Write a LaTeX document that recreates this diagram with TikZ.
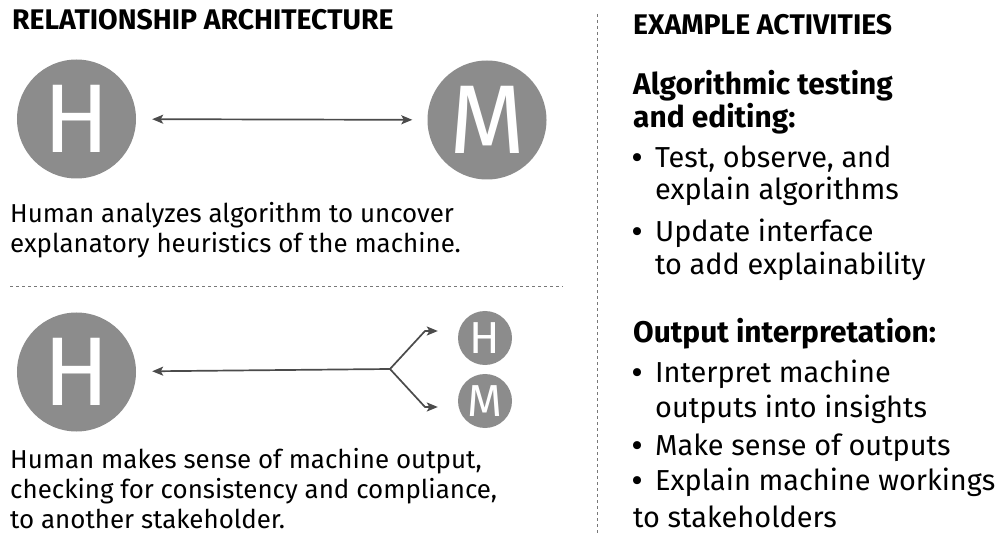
\documentclass[tikz,border=0pt]{standalone}
\usepackage{fontspec}
\setmainfont{Fira Sans}
\usetikzlibrary{arrows.meta}
\definecolor{disc}{RGB}{140,140,140}
\definecolor{ink}{RGB}{75,75,75}
\definecolor{rule}{RGB}{120,120,120}
\tikzset{
  tip/.tip={Stealth[length=11bp,width=9bp,inset=2.5bp]},
  bigdisc/.style={circle, fill=disc, minimum size=119bp, inner sep=0pt,
    text=white, font=\fontsize{98}{98}\selectfont},
  smalldisc/.style={circle, fill=disc, minimum size=54bp, inner sep=0pt,
    text=white, font=\fontsize{45}{45}\selectfont},
  conn/.style={draw=ink, line width=1.7bp, -tip},
  divider/.style={draw=rule, line width=0.9bp, dash pattern=on 3bp off 3bp},
  title/.style={anchor=base west, inner sep=0pt, font=\fontsize{28.5}{29}\bfseries\selectfont},
  caption/.style={anchor=base west, inner sep=0pt, font=\fontsize{26}{26}\selectfont},
  head/.style={anchor=base west, inner sep=0pt, font=\fontsize{30}{30}\bfseries\selectfont},
  item/.style={anchor=base west, inner sep=0pt, font=\fontsize{29}{29}\selectfont},
  dot/.style={anchor=base west, inner sep=0pt, font=\fontsize{29}{29}\bfseries\selectfont},
}
\begin{document}
\begin{tikzpicture}[x=1bp, y=-1bp]
\useasboundingbox[fill=white] (0,0) rectangle (995,536);

% column titles
\node[title] (t1) at (12,30) {RELATIONSHIP ARCHITECTURE};
\node[title] (t2) at (633,35) {EXAMPLE ACTIVITIES};

% dividers
\coordinate (hd1) at (10,286);
\coordinate (hd2) at (563,286);
\coordinate (vd1) at (597,14);
\coordinate (vd2) at (597,536);
\draw[divider] (hd1) -- (hd2);
\draw[divider] (vd1) -- (vd2);

% first relationship: human <-> machine
\node[bigdisc] (h1) at (76.5,119) {H};
\node[bigdisc] (m1) at (487,120) {M};
\draw[conn, tip-tip, shorten <=16bp, shorten >=15bp] (h1) -- (m1);
\node[caption] (c1a) at (10,223) {Human analyzes algorithm to uncover};
\node[caption] (c1b) at (10,253) {explanatory heuristics of the machine.};

% second relationship: machine output passed on
\node[bigdisc] (h2) at (76.5,372) {H};
\node[smalldisc] (hs) at (485,338) {H};
\node[smalldisc] (ms) at (485,401) {M};
\coordinate (split) at (390,369);
\coordinate (bu) at (425,331);
\coordinate (bd) at (425,407);
\draw[conn, shorten >=16bp] (split) -- (h2);
\draw[conn, shorten >=20bp] (split) -- (bu) -- (hs.west |- bu);
\draw[conn, shorten >=20bp] (split) -- (bd) -- (ms.west |- bd);
\node[caption] (c2a) at (10,468) {Human makes sense of machine output,};
\node[caption] (c2b) at (10,498) {checking for consistency and compliance,};
\node[caption] (c2c) at (10,528) {to another stakeholder.};

% example activities
\node[head] (a1) at (633,95) {Algorithmic testing};
\node[head] (a2) at (633,128) {and editing:};
\node[dot] (b1) at (632,168) {•};
\node[item] (i1a) at (655,168) {Test, observe, and};
\node[item] (i1b) at (655,200) {explain algorithms};
\node[dot] (b2) at (632,242) {•};
\node[item] (i2a) at (655,242) {Update interface};
\node[item] (i2b) at (655,275) {to add explainability};

\node[head] (o1) at (633,343) {Output interpretation:};
\node[dot] (b3) at (632,383) {•};
\node[item] (i3a) at (655,383) {Interpret machine};
\node[item] (i3b) at (655,417) {outputs into insights};
\node[dot] (b4) at (632,455) {•};
\node[item] (i4a) at (655,455) {Make sense of outputs};
\node[dot] (b5) at (632,490) {•};
\node[item] (i5a) at (655,490) {Explain machine workings};
\node[item] (i5b) at (633,527) {to stakeholders};
\end{tikzpicture}
\end{document}
